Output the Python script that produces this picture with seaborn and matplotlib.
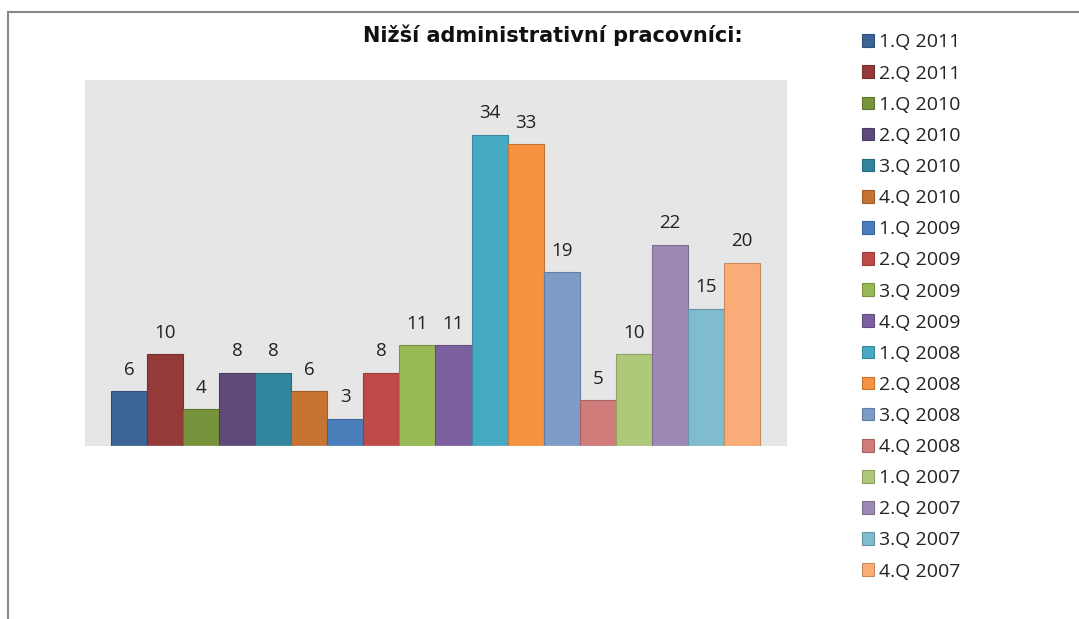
import matplotlib
matplotlib.use("Agg")
import matplotlib.pyplot as plt
import matplotlib.patches as patches
import matplotlib.colors as mcolors
import seaborn as sns
import pandas as pd

# Data
quarters = ['1.Q 2011', '2.Q 2011', '1.Q 2010', '2.Q 2010', '3.Q 2010', '4.Q 2010',
            '1.Q 2009', '2.Q 2009', '3.Q 2009', '4.Q 2009', '1.Q 2008', '2.Q 2008',
            '3.Q 2008', '4.Q 2008', '1.Q 2007', '2.Q 2007', '3.Q 2007', '4.Q 2007']
counts = [6, 10, 4, 8, 8, 6, 3, 8, 11, 11, 34, 33, 19, 5, 10, 22, 15, 20]
colors = ['#3C6497', '#943A38', '#77933C', '#604A7B', '#31859C', '#C77433',
          '#4A7EBB', '#BE4B48', '#98B954', '#7D60A0', '#46AAC5', '#F69240',
          '#7F9CC9', '#CF7C7B', '#AFC97A', '#9E88B5', '#7FBCD0', '#F9AC77']

df = pd.DataFrame({'quarter': quarters, 'count': counts})

sns.set_style("white")
plt.rcParams['font.family'] = ['Open Sans', 'DejaVu Sans']

fig = plt.figure(figsize=(10.79, 6.19), dpi=100)
W, H = 1079, 619
ax = fig.add_axes([85 / W, 1 - 446 / H, (787 - 85) / W, (446 - 80) / H])
ax.set_facecolor('#E6E6E6')

sns.barplot(data=df, x='quarter', y='count', hue='quarter', palette=colors,
            order=quarters, hue_order=quarters, dodge=False, width=1.0,
            saturation=1, legend=False, ax=ax)

def darker(c, f=0.8):
    return tuple(v * f for v in mcolors.to_rgb(c))

for bar, c in zip(ax.patches, colors):
    bar.set_edgecolor(darker(c))
    bar.set_linewidth(0.8)

for cont in ax.containers:
    ax.bar_label(cont, padding=9, fontsize=13.5, color='#222222')

ax.set_ylim(0, 40)
ax.set_xlim(-1.22, 18.25)
ax.set_xticks([])
ax.set_yticks([])
ax.set_xlabel('')
ax.set_ylabel('')
for s in ax.spines.values():
    s.set_visible(False)
ax.axhline(0, xmin=(1.22 - 0.5) / 19.47, xmax=(1.22 + 17.5) / 19.47, color='#d0d0d0', lw=1)

fig.text(553 / W, 1 - 35 / H, 'Nižší administrativní pracovníci:', ha='center', va='center',
         fontsize=15, fontweight='bold', color='#111111', family='DejaVu Sans')

handles = [patches.Patch(facecolor=c, edgecolor=darker(c), lw=0.8) for c in colors]
fig.legend(handles, quarters, loc='upper left', bbox_to_anchor=(844 / W, 1 - 16 / H),
           frameon=False, fontsize=14, handlelength=0.62, handleheight=0.62,
           handletextpad=0.3, labelspacing=0.675, labelcolor='#222222')

# outer frame (top and left edge visible)
fig.patches.append(patches.Rectangle((8 / W, -0.1), 1.2, 1 - 12 / H + 0.1, transform=fig.transFigure,
                                     fill=False, edgecolor='#888888', lw=1.5))

fig.savefig('out.png', dpi=100)
